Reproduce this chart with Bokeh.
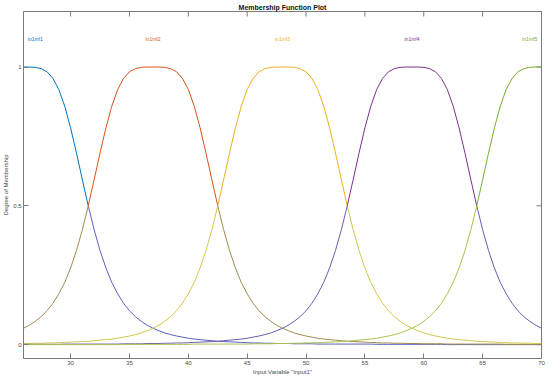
import math
from bokeh.plotting import figure
from bokeh.models import Range1d, FixedTicker, ColumnDataSource
from bokeh.core.properties import value
from bokeh.embed import file_html
from bokeh.resources import INLINE

# ---- data ----
x_vals = [26.0, 26.5, 27.0, 27.5, 28.0, 28.5, 29.0, 29.5, 30.0, 30.5,
          31.0, 31.5, 32.0, 32.5, 33.0, 33.5, 34.0, 34.5, 35.0, 35.5,
          36.0, 36.5, 37.0, 37.5, 38.0, 38.5, 39.0, 39.5, 40.0, 40.5,
          41.0, 41.5, 42.0, 42.5, 43.0, 43.5, 44.0, 44.5, 45.0, 45.5,
          46.0, 46.5, 47.0, 47.5, 48.0, 48.5, 49.0, 49.5, 50.0, 50.5,
          51.0, 51.5, 52.0, 52.5, 53.0, 53.5, 54.0, 54.5, 55.0, 55.5,
          56.0, 56.5, 57.0, 57.5, 58.0, 58.5, 59.0, 59.5, 60.0, 60.5,
          61.0, 61.5, 62.0, 62.5, 63.0, 63.5, 64.0, 64.5, 65.0, 65.5,
          66.0, 66.5, 67.0, 67.5, 68.0, 68.5, 69.0, 69.5, 70.0]

in1mf1 = [1.000, 1.000, 0.999, 0.994, 0.983, 0.959, 0.919, 0.859, 0.781, 0.690,
          0.594, 0.500, 0.414, 0.339, 0.276, 0.224, 0.183, 0.149, 0.122, 0.101,
          0.084, 0.070, 0.059, 0.050, 0.042, 0.036, 0.031, 0.027, 0.023, 0.020,
          0.018, 0.016, 0.014, 0.012, 0.011, 0.010, 0.009, 0.008, 0.007, 0.006,
          0.006, 0.005, 0.005, 0.004, 0.004, 0.004, 0.003, 0.003, 0.003, 0.003,
          0.002, 0.002, 0.002, 0.002, 0.002, 0.002, 0.002, 0.002, 0.002, 0.002,
          0.001, 0.001, 0.001, 0.001, 0.001, 0.001, 0.001, 0.001, 0.001, 0.001,
          0.001, 0.001, 0.000, 0.000, 0.000, 0.000, 0.000, 0.000, 0.000, 0.000,
          0.000, 0.000, 0.000, 0.000, 0.000, 0.000, 0.000, 0.000, 0.000]

in1mf2 = [0.059, 0.070, 0.084, 0.101, 0.122, 0.149, 0.183, 0.224, 0.276, 0.339,
          0.414, 0.500, 0.594, 0.690, 0.781, 0.859, 0.919, 0.959, 0.983, 0.994,
          0.999, 1.000, 1.000, 1.000, 0.999, 0.994, 0.983, 0.959, 0.919, 0.859,
          0.781, 0.690, 0.594, 0.500, 0.414, 0.339, 0.276, 0.224, 0.183, 0.149,
          0.122, 0.101, 0.084, 0.070, 0.059, 0.050, 0.042, 0.036, 0.031, 0.027,
          0.023, 0.020, 0.018, 0.016, 0.014, 0.012, 0.011, 0.010, 0.009, 0.008,
          0.007, 0.006, 0.006, 0.005, 0.005, 0.004, 0.004, 0.004, 0.003, 0.003,
          0.003, 0.003, 0.002, 0.002, 0.002, 0.002, 0.002, 0.002, 0.002, 0.002,
          0.002, 0.002, 0.001, 0.001, 0.001, 0.001, 0.001, 0.001, 0.001]

in1mf3 = [0.004, 0.004, 0.005, 0.005, 0.006, 0.006, 0.007, 0.008, 0.009, 0.010,
          0.011, 0.012, 0.014, 0.016, 0.018, 0.020, 0.023, 0.027, 0.031, 0.036,
          0.042, 0.050, 0.059, 0.070, 0.084, 0.101, 0.122, 0.149, 0.183, 0.224,
          0.276, 0.339, 0.414, 0.500, 0.594, 0.690, 0.781, 0.859, 0.919, 0.959,
          0.983, 0.994, 0.999, 1.000, 1.000, 1.000, 0.999, 0.994, 0.983, 0.959,
          0.919, 0.859, 0.781, 0.690, 0.594, 0.500, 0.414, 0.339, 0.276, 0.224,
          0.183, 0.149, 0.122, 0.101, 0.084, 0.070, 0.059, 0.050, 0.042, 0.036,
          0.031, 0.027, 0.023, 0.020, 0.018, 0.016, 0.014, 0.012, 0.011, 0.010,
          0.009, 0.008, 0.007, 0.006, 0.006, 0.005, 0.005, 0.004, 0.004]

in1mf4 = [0.001, 0.001, 0.001, 0.001, 0.001, 0.001, 0.001, 0.002, 0.002, 0.002,
          0.002, 0.002, 0.002, 0.002, 0.002, 0.002, 0.002, 0.003, 0.003, 0.003,
          0.003, 0.004, 0.004, 0.004, 0.005, 0.005, 0.006, 0.006, 0.007, 0.008,
          0.009, 0.010, 0.011, 0.012, 0.014, 0.016, 0.018, 0.020, 0.023, 0.027,
          0.031, 0.036, 0.042, 0.050, 0.059, 0.070, 0.084, 0.101, 0.122, 0.149,
          0.183, 0.224, 0.276, 0.339, 0.414, 0.500, 0.594, 0.690, 0.781, 0.859,
          0.919, 0.959, 0.983, 0.994, 0.999, 1.000, 1.000, 1.000, 0.999, 0.994,
          0.983, 0.959, 0.919, 0.859, 0.781, 0.690, 0.594, 0.500, 0.414, 0.339,
          0.276, 0.224, 0.183, 0.149, 0.122, 0.101, 0.084, 0.070, 0.059]

in1mf5 = [0.000, 0.000, 0.000, 0.000, 0.000, 0.000, 0.000, 0.000, 0.000, 0.000,
          0.000, 0.000, 0.000, 0.000, 0.000, 0.000, 0.000, 0.001, 0.001, 0.001,
          0.001, 0.001, 0.001, 0.001, 0.001, 0.001, 0.001, 0.001, 0.001, 0.002,
          0.002, 0.002, 0.002, 0.002, 0.002, 0.002, 0.002, 0.002, 0.002, 0.003,
          0.003, 0.003, 0.003, 0.004, 0.004, 0.004, 0.005, 0.005, 0.006, 0.006,
          0.007, 0.008, 0.009, 0.010, 0.011, 0.012, 0.014, 0.016, 0.018, 0.020,
          0.023, 0.027, 0.031, 0.036, 0.042, 0.050, 0.059, 0.070, 0.084, 0.101,
          0.122, 0.149, 0.183, 0.224, 0.276, 0.339, 0.414, 0.500, 0.594, 0.690,
          0.781, 0.859, 0.919, 0.959, 0.983, 0.994, 0.999, 1.000, 1.000]

mf_names = ["in1mf1", "in1mf2", "in1mf3", "in1mf4", "in1mf5"]
mf_label_x = [27, 37, 48, 59, 69]
mf_label_y = [1.1, 1.1, 1.1, 1.1, 1.1]
x_ticks = [30, 35, 40, 45, 50, 55, 60, 65, 70]
y_ticks = [0, 0.5, 1]
y_tick_labels = {0: "0", 0.5: "0.5", 1: "1"}

main_colors = ["#0072BD", "#D95319", "#EDB120", "#7E2F8E", "#77AC30"]
tail_colors = ["#5b5fc0", "#a08c4a", "#cfc84a", "#6a5db0", "#a9c24e"]
series = [in1mf1, in1mf2, in1mf3, in1mf4, in1mf5]

FONT = "Liberation Sans"
AX = "#7a7a7a"
LBL = "#4a4a4a"

p = figure(width=550, height=377, x_range=Range1d(26, 70), y_range=Range1d(-0.05, 1.2),
           output_backend="svg", toolbar_location=None,
           min_border_left=0, min_border_right=9, min_border_top=0, min_border_bottom=0)
p.background_fill_color = "white"
p.border_fill_color = "white"
p.outline_line_color = AX
p.outline_line_width = 1
p.xgrid.visible = False
p.ygrid.visible = False

p.title.text = "Membership Function Plot"
p.title.align = "center"
p.title.text_font = FONT
p.title.text_font_size = "7px"
p.title.text_font_style = "bold"
p.title.text_color = "#111111"
p.title.standoff = 2
p.title.offset = 0

def style_axis(ax):
    ax.axis_line_color = AX
    ax.major_tick_line_color = AX
    ax.major_tick_in = 5
    ax.major_tick_out = 0
    ax.minor_tick_line_color = None
    ax.major_label_text_font = FONT
    ax.major_label_text_color = LBL
    ax.major_label_text_font_size = "6px"
    ax.major_label_standoff = 2
    ax.axis_label_text_font = FONT
    ax.axis_label_text_font_size = "6px"
    ax.axis_label_text_font_style = "normal"
    ax.axis_label_text_color = LBL
    ax.axis_label_standoff = 1

xa = p.xaxis[0]
xa.ticker = FixedTicker(ticks=x_ticks)
xa.axis_label = 'Input Variable "input1"'
style_axis(xa)

ya = p.yaxis[0]
ya.ticker = FixedTicker(ticks=y_ticks)
ya.major_label_overrides = y_tick_labels
ya.axis_label = "Degree of Membership"
style_axis(ya)

# mirrored inward ticks on the top and right frame edges
p.ray(x=x_ticks, y=[p.y_range.end] * len(x_ticks), length=5, length_units="screen",
      angle=-math.pi / 2, line_color=AX, line_width=1)
p.ray(x=[p.x_range.end] * len(y_ticks), y=y_ticks, length=5, length_units="screen",
      angle=math.pi, line_color=AX, line_width=1)

nan = float("nan")
for ys, c_main, c_tail in zip(series, main_colors, tail_colors):
    upper = [v if v >= 0.5 else nan for v in ys]
    lower = [v if v <= 0.5 else nan for v in ys]
    p.line(x_vals, lower, line_color=c_tail, line_width=1)
    p.line(x_vals, upper, line_color=c_main, line_width=1)

src = ColumnDataSource(dict(x=mf_label_x, y=mf_label_y, t=mf_names, c=main_colors))
p.text(x="x", y="y", text="t", text_color="c", source=src,
       text_font=value(FONT), text_font_size="5px",
       text_align="center", text_baseline="middle")

open("out.html", "w").write(file_html(p, INLINE))
